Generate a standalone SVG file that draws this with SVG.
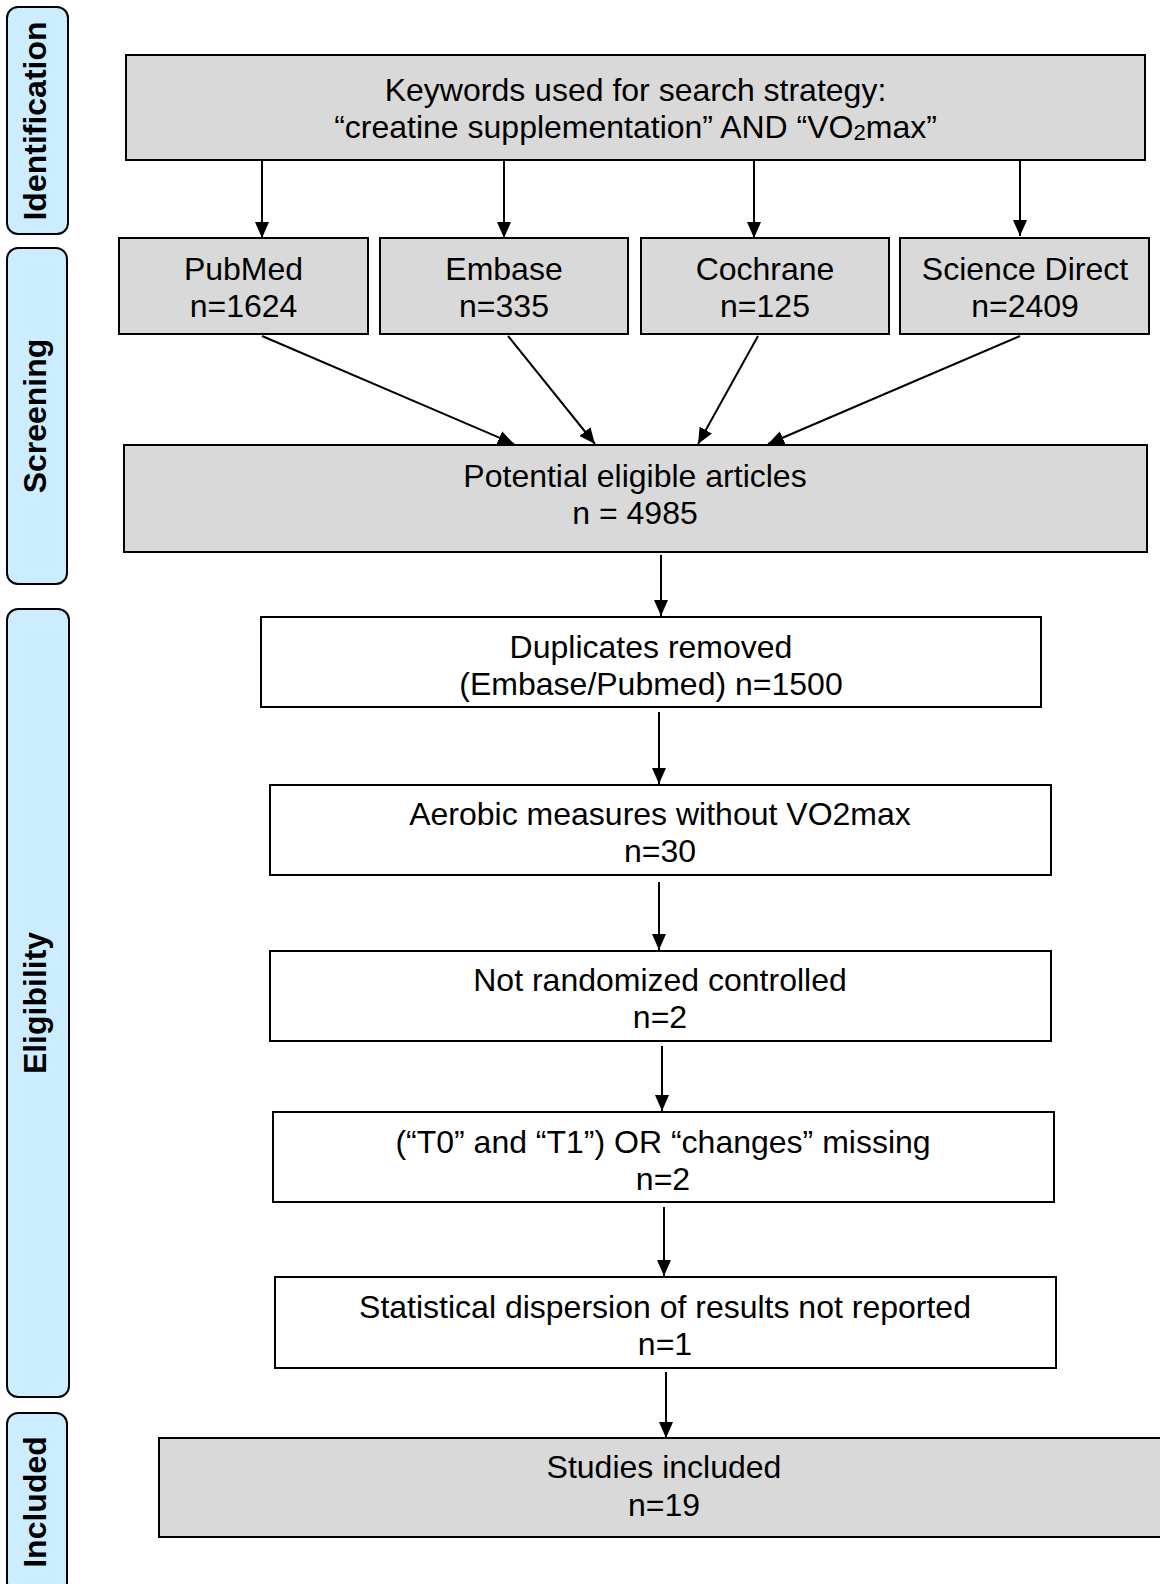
<svg xmlns="http://www.w3.org/2000/svg" width="1160" height="1584" viewBox="0 0 1160 1584">
<defs>
<style>
.box{fill:#D9D9D9;stroke:#000;stroke-width:2}
.wbox{fill:#FFFFFF;stroke:#000;stroke-width:2}
.pill{fill:#CCECFF;stroke:#000;stroke-width:2}
.t{font-family:"Liberation Sans",Arial,sans-serif;font-size:32px;fill:#000;text-anchor:middle}
.lbl{font-family:"Liberation Sans",Arial,sans-serif;font-size:32px;font-weight:bold;fill:#000;text-anchor:middle}
.c{stroke:#000;stroke-width:2;fill:none;marker-end:url(#ah)}
</style>
<marker id="ah" markerUnits="userSpaceOnUse" markerWidth="16" markerHeight="14" refX="16" refY="7" orient="auto">
<path d="M0,0 L16,7 L0,14 z" fill="#000"/>
</marker>
</defs>
<rect width="1160" height="1584" fill="#fff"/>

<g id="phase-identification">
<rect class="pill" x="7" y="7" width="61" height="227" rx="11"/>
<text class="lbl" transform="translate(46,121) rotate(-90)">Identification</text>
</g>
<g id="phase-screening">
<rect class="pill" x="7" y="248" width="60" height="336" rx="11"/>
<text class="lbl" transform="translate(46,416) rotate(-90)">Screening</text>
</g>
<g id="phase-eligibility">
<rect class="pill" x="7" y="609" width="62" height="788" rx="11"/>
<text class="lbl" transform="translate(46,1003) rotate(-90)">Eligibility</text>
</g>
<g id="phase-included">
<rect class="pill" x="7" y="1413" width="60" height="180" rx="11"/>
<text class="lbl" transform="translate(46,1502) rotate(-90)">Included</text>
</g>

<g id="connectors">
<line class="c" x1="262" y1="161" x2="262" y2="238"/>
<line class="c" x1="504" y1="161" x2="504" y2="238"/>
<line class="c" x1="754" y1="161" x2="754" y2="238"/>
<line class="c" x1="1020" y1="161" x2="1020" y2="236"/>
<line class="c" x1="262" y1="336" x2="514" y2="444"/>
<line class="c" x1="508" y1="336" x2="595" y2="444"/>
<line class="c" x1="758" y1="336" x2="698" y2="444"/>
<line class="c" x1="1020" y1="336" x2="768" y2="444"/>
<line class="c" x1="661" y1="555" x2="661" y2="616"/>
<line class="c" x1="659" y1="712" x2="659" y2="784"/>
<line class="c" x1="659" y1="882" x2="659" y2="950"/>
<line class="c" x1="662" y1="1046" x2="662" y2="1111"/>
<line class="c" x1="664" y1="1207" x2="664" y2="1276"/>
<line class="c" x1="666" y1="1372" x2="666" y2="1438"/>
</g>

<g id="keywords">
<rect class="box" x="126" y="55" width="1019" height="105"/>
<text class="t" x="635.5" y="101">Keywords used for search strategy:</text>
<text class="t" x="635.5" y="138">“creatine supplementation” AND “VO<tspan font-size="22" dy="2">2</tspan><tspan dy="-2">max”</tspan></text>
</g>
<g id="pubmed">
<rect class="box" x="119" y="238" width="249" height="96"/>
<text class="t" x="243.5" y="280">PubMed</text>
<text class="t" x="243.5" y="317">n=1624</text>
</g>
<g id="embase">
<rect class="box" x="380" y="238" width="248" height="96"/>
<text class="t" x="504" y="280">Embase</text>
<text class="t" x="504" y="317">n=335</text>
</g>
<g id="cochrane">
<rect class="box" x="641" y="238" width="248" height="96"/>
<text class="t" x="765" y="280">Cochrane</text>
<text class="t" x="765" y="317">n=125</text>
</g>
<g id="sciencedirect">
<rect class="box" x="900" y="238" width="249" height="96"/>
<text class="t" x="1025" y="280">Science Direct</text>
<text class="t" x="1025" y="317">n=2409</text>
</g>
<g id="potential">
<rect class="box" x="124" y="445" width="1023" height="107"/>
<text class="t" x="635" y="487">Potential eligible articles</text>
<text class="t" x="635" y="524">n = 4985</text>
</g>
<g id="duplicates">
<rect class="wbox" x="261" y="617" width="780" height="90"/>
<text class="t" x="651" y="658">Duplicates removed</text>
<text class="t" x="651" y="695">(Embase/Pubmed) n=1500</text>
</g>
<g id="aerobic">
<rect class="wbox" x="270" y="785" width="781" height="90"/>
<text class="t" x="660" y="825">Aerobic measures without VO2max</text>
<text class="t" x="660" y="862">n=30</text>
</g>
<g id="notrandomized">
<rect class="wbox" x="270" y="951" width="781" height="90"/>
<text class="t" x="660" y="991">Not randomized controlled</text>
<text class="t" x="660" y="1028">n=2</text>
</g>
<g id="t0t1">
<rect class="wbox" x="273" y="1112" width="781" height="90"/>
<text class="t" x="663" y="1153">(“T0” and “T1”) OR “changes” missing</text>
<text class="t" x="663" y="1190">n=2</text>
</g>
<g id="dispersion">
<rect class="wbox" x="275" y="1277" width="781" height="91"/>
<text class="t" x="665" y="1318">Statistical dispersion of results not reported</text>
<text class="t" x="665" y="1355">n=1</text>
</g>
<g id="included">
<rect class="box" x="159" y="1438" width="1012" height="99"/>
<text class="t" x="664" y="1478">Studies included</text>
<text class="t" x="664" y="1516">n=19</text>
</g>
</svg>
